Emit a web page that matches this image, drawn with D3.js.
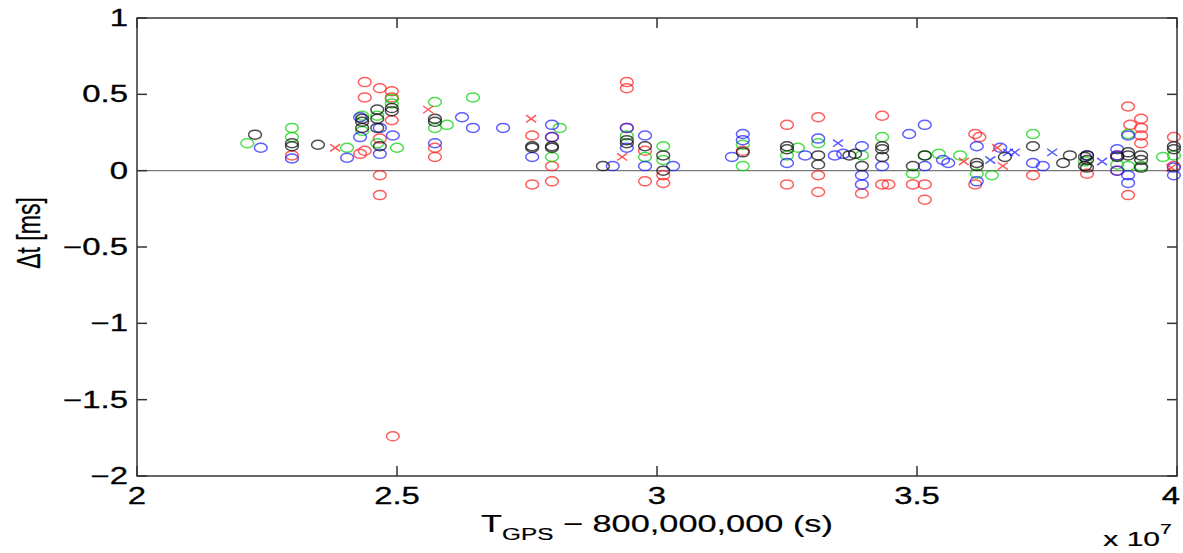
<!DOCTYPE html>
<html><head><meta charset="utf-8">
<script src="https://cdn.jsdelivr.net/npm/d3@7"></script>
<style>body{margin:0;background:#fff}</style>
</head><body>
<svg id="c" width="1183" height="553"></svg>
<script>
// x in units of 1e7 s, y in ms
const xTicks = [2, 2.5, 3, 3.5, 4];
const xTickLabels = ["2", "2.5", "3", "3.5", "4"];
const yTicks = [1, 0.5, 0, -0.5, -1, -1.5, -2];
const yTickLabels = ["1", "0.5", "0", "\u22120.5", "\u22121", "\u22121.5", "\u22122"];

const redCircles = [
 [2.298,0.10],[2.429,0.11],[2.438,0.13],[2.438,0.58],[2.438,0.48],[2.467,0.54],[2.467,0.21],
 [2.467,-0.03],[2.467,-0.16],[2.490,0.52],[2.490,0.48],[2.490,0.33],[2.492,-1.74],[2.573,0.15],
 [2.573,0.09],[2.760,0.23],[2.760,-0.09],[2.798,0.22],[2.798,0.03],[2.798,-0.07],[2.942,0.58],
 [2.942,0.54],[2.942,0.28],[2.977,0.13],[2.977,-0.07],[3.012,-0.03],[3.012,-0.08],[3.165,0.13],
 [3.25,0.30],[3.25,-0.09],[3.31,0.35],[3.31,-0.03],[3.31,-0.14],[3.394,-0.15],[3.433,0.36],
 [3.433,-0.09],[3.445,-0.09],[3.492,-0.09],[3.515,-0.09],[3.515,-0.19],[3.612,0.24],[3.62,0.22],
 [3.612,-0.09],[3.723,-0.03],[3.827,-0.02],[3.885,0.10],[3.885,0.0],[3.906,0.42],[3.91,0.30],
 [3.906,-0.16],[3.931,0.34],[3.931,0.28],[3.931,0.23],[3.931,0.18],[3.994,0.22],[3.994,0.03]
];
const greenCircles = [
 [2.212,0.18],[2.298,0.28],[2.298,0.22],[2.404,0.15],[2.433,0.36],[2.433,0.26],[2.462,0.36],
 [2.462,0.18],[2.490,0.47],[2.490,0.44],[2.5,0.15],[2.573,0.45],[2.573,0.28],[2.596,0.30],
 [2.646,0.48],[2.798,0.09],[2.813,0.28],[2.942,0.23],[2.977,0.09],[3.012,0.16],[3.012,0.07],
 [3.165,0.17],[3.165,0.03],[3.25,0.10],[3.271,0.15],[3.31,0.18],[3.394,0.10],[3.433,0.22],
 [3.492,-0.02],[3.515,0.10],[3.542,0.11],[3.583,0.10],[3.615,-0.02],[3.644,-0.03],[3.723,0.24],
 [3.823,0.06],[3.885,0.04],[3.906,0.24],[3.906,0.03],[3.931,0.03],[3.973,0.09],[3.994,0.10]
];
const blueCircles = [
 [2.238,0.15],[2.298,0.08],[2.404,0.085],[2.429,0.35],[2.429,0.22],[2.467,0.28],[2.467,0.11],
 [2.492,0.23],[2.573,0.18],[2.625,0.35],[2.646,0.28],[2.704,0.28],[2.760,0.09],[2.798,0.30],
 [2.798,0.22],[2.915,0.03],[2.942,0.15],[2.942,0.28],[2.977,0.23],[2.977,0.03],[3.031,0.03],
 [3.165,0.24],[3.165,0.20],[3.144,0.09],[3.25,0.05],[3.285,0.10],[3.31,0.21],[3.342,0.10],
 [3.358,0.11],[3.394,0.16],[3.394,-0.03],[3.394,-0.09],[3.433,0.03],[3.485,0.24],[3.515,0.30],
 [3.515,0.03],[3.55,0.07],[3.56,0.05],[3.615,0.16],[3.615,-0.07],[3.66,0.15],[3.723,0.05],
 [3.742,0.03],[3.827,0.10],[3.885,0.14],[3.885,0.10],[3.885,0.0],[3.906,0.23],[3.906,-0.03],
 [3.906,-0.08],[3.994,0.02],[3.994,-0.03]
];
const blackCircles = [
 [2.227,0.236],[2.298,0.18],[2.298,0.16],[2.348,0.17],[2.433,0.34],[2.433,0.32],[2.433,0.28],
 [2.462,0.40],[2.462,0.34],[2.462,0.28],[2.467,0.16],[2.490,0.41],[2.490,0.39],[2.573,0.34],
 [2.573,0.32],[2.760,0.16],[2.760,0.15],[2.798,0.16],[2.798,0.15],[2.896,0.03],[2.942,0.20],
 [2.942,0.18],[2.977,0.16],[3.012,0.10],[3.012,0.0],[3.165,0.12],[3.25,0.16],[3.25,0.14],
 [3.31,0.10],[3.31,0.04],[3.381,0.11],[3.37,0.10],[3.394,0.03],[3.433,0.16],[3.433,0.14],
 [3.433,0.09],[3.492,0.03],[3.515,0.10],[3.615,0.05],[3.615,0.03],[3.669,0.09],[3.723,0.16],
 [3.781,0.05],[3.794,0.10],[3.823,0.09],[3.823,0.03],[3.827,0.10],[3.827,0.07],[3.827,0.02],
 [3.885,0.09],[3.906,0.10],[3.906,0.12],[3.931,0.10],[3.931,0.07],[3.931,0.02],[3.994,0.16],[3.994,0.14]
];
const redCrosses = [
 [2.381,0.15],[2.560,0.40],[2.758,0.34],[2.933,0.09],[3.654,0.15],[3.665,0.03],[3.59,0.06],[3.989,0.02]
];
const blueCrosses = [
 [3.348,0.18],[3.688,0.12],[3.675,0.12],[3.76,0.12],[3.856,0.06],[3.641,0.07]
];

const svg = d3.select("#c");
const L = 137, R = 1177, T = 18, B = 476;
const SX = 1.43; // horizontal stretch of the original picture
const x = d3.scaleLinear().domain([2, 4]).range([L, R]);
const y = d3.scaleLinear().domain([-2, 1]).range([B, T]);
const font = "'Liberation Sans', Arial, Helvetica, sans-serif";

// zero line
svg.append("line").attr("x1", x(2)).attr("x2", x(4)).attr("y1", y(0)).attr("y2", y(0))
  .attr("stroke", "#7a7a7a").attr("stroke-width", 1.2);

// markers
const series = [
  {d: redCircles, c: "#ff1a1a", o: 0.7},
  {d: greenCircles, c: "#00d000", o: 0.7},
  {d: blueCircles, c: "#1a1aff", o: 0.7},
  {d: blackCircles, c: "#111", o: 0.75}
];
series.forEach(s => {
  svg.append("g").selectAll("ellipse").data(s.d).join("ellipse")
    .attr("cx", d => x(d[0])).attr("cy", d => y(d[1]))
    .attr("rx", 6.4).attr("ry", 4.5)
    .attr("fill", "none").attr("stroke", s.c).attr("stroke-opacity", s.o).attr("stroke-width", 1.5);
});
[{d: redCrosses, c: "#ff1a1a"}, {d: blueCrosses, c: "#1a1aff"}].forEach(s => {
  svg.append("g").selectAll("path").data(s.d).join("path")
    .attr("d", d => {
      const cx = x(d[0]), cy = y(d[1]), a = 5, b = 3.6;
      return `M${cx-a},${cy-b}L${cx+a},${cy+b}M${cx-a},${cy+b}L${cx+a},${cy-b}`;
    })
    .attr("fill", "none").attr("stroke", s.c).attr("stroke-opacity", 0.75).attr("stroke-width", 1.4);
});

// axes (box with inner ticks)
const axCol = "#333";
const tk = 10;
const gAx = svg.append("g").attr("stroke", axCol).attr("stroke-width", 1.5).attr("fill", "none");
gAx.append("rect").attr("x", L).attr("y", T).attr("width", R - L).attr("height", B - T);
xTicks.forEach(v => {
  gAx.append("line").attr("x1", x(v)).attr("x2", x(v)).attr("y1", B).attr("y2", B - tk);
  gAx.append("line").attr("x1", x(v)).attr("x2", x(v)).attr("y1", T).attr("y2", T + tk);
});
yTicks.forEach(v => {
  gAx.append("line").attr("x1", L).attr("x2", L + tk).attr("y1", y(v)).attr("y2", y(v));
  gAx.append("line").attr("x1", R).attr("x2", R - tk).attr("y1", y(v)).attr("y2", y(v));
});

// tick labels
xTicks.forEach((v, i) => {
  const px = Math.min(x(v), 1171);
  svg.append("text").attr("transform", `translate(${px},${B + 28}) scale(${SX},1)`)
    .attr("text-anchor", "middle").attr("font-family", font).attr("font-size", 23)
    .attr("fill", "#000").attr("stroke", "#000").attr("stroke-width", 0.3).text(xTickLabels[i]);
});
yTicks.forEach((v, i) => {
  svg.append("text").attr("transform", `translate(${L - 9},${y(v) + 8}) scale(${SX},1)`)
    .attr("text-anchor", "end").attr("font-family", font).attr("font-size", 23)
    .attr("fill", "#000").attr("stroke", "#000").attr("stroke-width", 0.3).text(yTickLabels[i]);
});

// x label
const xl = svg.append("text").attr("transform", `translate(${(x(2.5)+x(3.5))/2},${532}) scale(${SX},1)`)
  .attr("text-anchor", "middle").attr("font-family", font).attr("font-size", 24).attr("fill", "#000")
  .attr("stroke", "#000").attr("stroke-width", 0.2);
xl.append("tspan").text("T");
xl.append("tspan").attr("font-size", 17).attr("dy", 8).text("GPS");
xl.append("tspan").attr("dy", -8).text(" \u2212 800,000,000 (s)");

// exponent
const ex = svg.append("text").attr("transform", `translate(${1172},${546}) scale(${SX},1)`)
  .attr("text-anchor", "end").attr("font-family", font).attr("font-size", 21).attr("fill", "#000")
  .attr("stroke", "#000").attr("stroke-width", 0.2);
ex.append("tspan").text("x 10");
ex.append("tspan").attr("font-size", 15).attr("dy", -12).text("7");

// y label
svg.append("text").attr("transform", `translate(${40},${233}) scale(${SX},1) rotate(-90)`)
  .attr("text-anchor", "middle").attr("font-family", font).attr("font-size", 23).attr("fill", "#000")
  .attr("stroke", "#000").attr("stroke-width", 0.2)
  .text("\u0394t [ms]");
</script>
</body></html>
